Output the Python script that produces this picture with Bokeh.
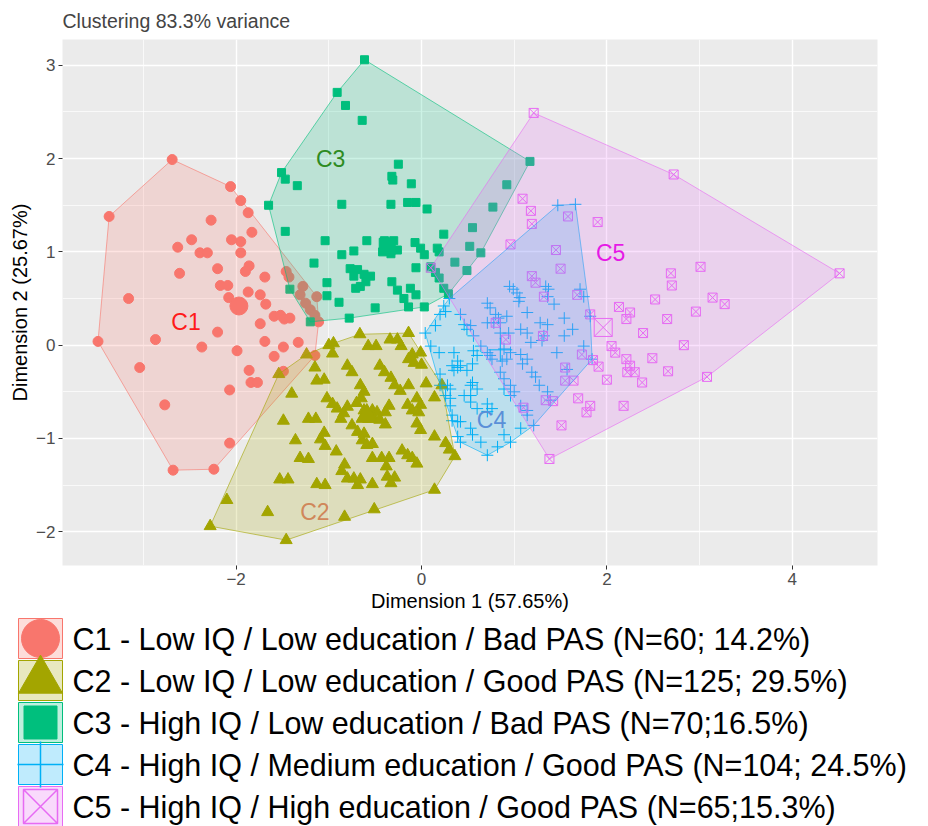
from bokeh.plotting import figure
from bokeh.models import Range1d, FixedTicker
from bokeh.embed import file_html
from bokeh.resources import INLINE
from bokeh.core.properties import value

# ---------------- data ----------------
c1_x = [-2.69, -3.37, -2.06, -1.95, -1.87, -2.27, -1.83, -2.48, -2.63, -2.05, -1.95, -2.39, -2.31, -1.95,
        -1.86, -1.90, -2.20, -2.61, -1.69, -1.46, -1.43, -1.28, -1.31, -1.13, -1.20, -1.15, -1.11, -2.17,
        -2.09, -3.16, -2.08, -1.87, -1.74, -1.68, -1.59, -1.52, -1.48, -1.42, -1.74, -2.20, -3.49, -2.87,
        -2.37, -1.99, -1.69, -1.49, -1.33, -1.59, -1.15, -3.04, -1.86, -1.49, -1.84, -1.77, -2.07, -2.77,
        -2.07, -2.68, -2.24, -1.25]
c1_y = [1.99, 1.38, 1.70, 1.55, 1.42, 1.34, 1.21, 1.13, 1.05, 1.13, 1.11, 0.99, 0.99, 0.99,
        0.85, 0.79, 0.82, 0.77, 0.73, 0.79, 0.73, 0.63, 0.54, 0.52, 0.38, 0.32, 0.25, 0.64,
        0.64, 0.50, 0.51, 0.57, 0.54, 0.44, 0.31, 0.32, 0.28, 0.29, 0.23, 0.14, 0.04, 0.06,
        -0.02, -0.06, 0.04, -0.02, 0.03, -0.12, -0.11, -0.24, -0.27, -0.28, -0.40, -0.40, -0.48, -0.64,
        -1.05, -1.34, -1.33, 0.45]

c2_x = [-0.665, -0.14, -1.00, -0.95, -0.575, -0.49, -0.34, -0.26, -0.22, -1.24, -0.96, -0.10, -0.01, -0.14,
        -0.08, 0.00, -1.15, -0.80, -0.75, -0.45, -0.40, -0.33, -0.29, -1.54, -1.13, -1.05, -0.66, -0.62,
        -0.23, -0.14, 0.05, -1.40, -1.02, -0.96, -0.91, -0.65, -0.05, -0.01, -0.15, -0.10, -0.03, 0.14,
        0.22, -0.80, -0.84, -0.87, -0.59, -0.53, -0.48, -0.39, -0.64, -0.57, -0.51, -1.49, -1.22, -1.14,
        -0.39, -0.05, -0.01, -0.75, -0.69, -0.62, -1.05, -1.09, -1.04, -1.36, -0.64, -0.59, -0.53, 0.14,
        0.26, 0.30, 0.36, -0.92, -0.53, -0.43, -0.35, -0.38, -0.21, -0.15, -0.10, -0.05, -1.31, -1.22,
        -0.83, -0.86, -0.80, -0.73, -0.66, -0.69, -0.37, -0.29, -0.33, -0.53, -1.53, -1.44, -1.13, -1.04,
        0.14, -2.10, -1.66, -0.83, -0.51, -2.28, -1.46, -0.55, -0.62, -0.45, -0.70, -0.35]
c2_y = [0.117, 0.13, 0.00, 0.02, -0.01, -0.01, 0.06, 0.06, -0.01, -0.10, -0.09, -0.10, -0.08, -0.15,
        -0.19, -0.21, -0.24, -0.22, -0.29, -0.22, -0.29, -0.35, -0.43, -0.31, -0.38, -0.37, -0.43, -0.50,
        -0.49, -0.43, -0.41, -0.52, -0.57, -0.63, -0.68, -0.57, -0.57, -0.64, -0.64, -0.70, -0.72, -0.56,
        -0.43, -0.66, -0.73, -0.79, -0.72, -0.70, -0.72, -0.72, -0.79, -0.79, -0.79, -0.81, -0.79, -0.79,
        -0.85, -0.84, -0.91, -0.86, -0.93, -0.95, -0.94, -1.01, -1.08, -1.02, -1.02, -1.07, -1.06, -0.98,
        -1.05, -1.12, -1.19, -1.14, -1.21, -1.21, -1.21, -1.30, -1.13, -1.18, -1.21, -1.27, -1.21, -1.22,
        -1.28, -1.35, -1.43, -1.43, -1.44, -1.50, -1.41, -1.42, -1.48, -1.49, -1.44, -1.44, -1.49, -1.50,
        -1.55, -1.66, -1.79, -1.84, -1.76, -1.94, -2.09, -0.75, -0.70, -0.80, -0.62, -0.65]

c3_x = [-0.615, -0.91, -0.82, -0.64, -1.51, -1.47, -1.34, -0.25, -0.32, -0.31, -0.11, -1.65, -0.86, -0.33,
        -0.15, -0.06, 0.06, 1.17, 0.92, 0.77, 0.55, 0.24, -1.47, -1.04, -0.59, -0.40, -0.30, -0.42,
        -0.33, -0.26, -0.86, -0.73, -0.07, -0.01, 0.03, 0.17, 0.19, 0.52, 0.36, 0.49, -1.16, -0.77,
        -0.69, -0.73, -0.62, -0.55, -0.60, -0.66, -0.71, -0.06, 0.10, 0.15, 0.19, -1.02, -0.32, -0.26,
        -0.19, -0.14, -0.12, -0.06, 0.24, 0.29, -1.42, -1.02, -0.89, -0.50, 0.03, -0.78, -1.20, 0.64]
c3_y = [3.06, 2.71, 2.57, 2.41, 1.85, 1.78, 1.71, 1.94, 1.81, 1.77, 1.73, 1.50, 1.51, 1.51,
        1.53, 1.53, 1.46, 1.97, 1.72, 1.48, 1.26, 1.19, 1.22, 1.12, 1.12, 1.12, 1.12, 1.00,
        0.98, 1.02, 0.97, 1.01, 1.10, 1.04, 0.97, 1.04, 1.00, 1.06, 0.89, 0.80, 0.88, 0.82,
        0.81, 0.74, 0.76, 0.74, 0.68, 0.63, 0.61, 0.83, 0.84, 0.78, 0.72, 0.67, 0.68, 0.59,
        0.50, 0.41, 0.61, 0.54, 0.61, 0.55, 0.60, 0.53, 0.46, 0.40, 0.41, 0.29, 0.25, 0.99]

c4_x = [1.47, 1.66, 0.95, 0.99, 1.03, 1.06, 1.05, 1.34, 1.37, 1.36, 1.43, 1.71, 1.75, 0.71, 0.74,
        0.80, 0.83, 1.14, 1.54, 1.82, 0.26, 0.42, 0.24, 0.20, 0.53, 0.49, 0.46, 0.56, 0.04, 0.15,
        0.71, 0.78, 0.85, 0.94, 1.32, 1.30, 1.63, 1.46, 1.75, 1.84, 0.89, 0.96, 0.92, 0.87, 1.07,
        1.14, 1.09, 0.71, 0.74, 0.76, 0.19, 0.35, 0.39, 0.42, 0.35, 0.49, 0.33, 0.39, 0.56, 0.60,
        0.55, 1.19, 1.23, 0.85, 0.89, 1.57, 0.28, 0.20, 0.31, 0.26, 0.53, 0.60, 0.55, 0.53, 0.46,
        0.96, 1.00, 0.89, 0.96, 1.27, 1.36, 0.31, 0.53, 0.71, 0.76, 0.71, 1.07, 1.14, 0.33, 0.39,
        0.31, 0.33, 0.60, 1.21, 0.53, 0.55, 0.89, 0.96, 0.42, 0.39, 0.42, 0.71, 0.82, 0.64, 1.07,
        0.20, 0.10, 0.64, 1.18, 1.54, 1.07, 1.14, 1.28, 1.36, 0.85, 0.92, 0.30, 1.39, 1.14]
c4_y = [1.50, 1.51, 0.63, 0.60, 0.56, 0.51, 0.47, 0.63, 0.60, 0.52, 0.44, 0.60, 0.52, 0.45, 0.40,
        0.33, 0.29, 0.35, 0.29, 0.31, 0.36, 0.33, 0.42, 0.33, 0.21, 0.17, 0.22, 0.10, 0.13, 0.21,
        0.24, 0.24, 0.13, 0.13, 0.10, 0.05, 0.17, -0.08, -0.01, -0.15, -0.04, -0.08, -0.15, -0.17, -0.10,
        -0.15, -0.20, -0.08, -0.11, -0.15, -0.08, -0.08, -0.17, -0.22, -0.27, -0.27, -0.22, -0.24, -0.06, -0.11,
        -0.20, -0.29, -0.34, -0.29, -0.36, -0.26, -0.43, -0.43, -0.47, -0.54, -0.43, -0.47, -0.40, -0.54, -0.54,
        -0.43, -0.50, -0.47, -0.54, -0.43, -0.50, -0.57, -0.61, -0.63, -0.68, -0.71, -0.65, -0.70, -0.75, -0.82,
        -0.65, -0.81, -0.68, -0.86, -0.89, -0.96, -0.96, -1.04, -1.04, -0.98, -0.82, -1.18, -1.09, -1.04, -0.89,
        -0.31, -0.01, -0.01, 0.03, 0.10, 0.17, 0.13, 0.24, 0.22, 0.24, 0.31, 0.50, -0.59, -0.75]

c5_x = [1.21, 2.72, 4.51, 3.08, 1.38, 1.09, 1.18, 1.19, 1.58, 1.90, 0.96, 1.45, 1.50, 1.19, 1.23,
        1.32, 1.68, 1.82, 3.01, 2.69, 2.70, 3.14, 3.27, 2.52, 2.13, 2.25, 2.21, 2.96, 2.65, 2.39,
        2.83, 0.91, 1.31, 2.05, 2.09, 1.73, 1.85, 1.91, 2.21, 2.25, 2.22, 2.30, 2.49, 2.66, 2.38,
        2.00, 1.55, 1.55, 1.64, 1.69, 1.82, 1.78, 2.18, 1.34, 1.42, 1.10, 1.51, 0.80, 0.10]
c5_y = [2.49, 1.83, 0.77, -0.34, -1.22, 1.57, 1.44, 1.30, 1.38, 1.32, 1.08, 1.02, 0.82, 0.74, 0.67,
        0.52, 0.54, 0.33, 0.84, 0.77, 0.64, 0.51, 0.44, 0.49, 0.41, 0.35, 0.28, 0.36, 0.28, 0.13,
        0.00, 0.06, 0.10, -0.01, -0.08, -0.10, -0.16, -0.23, -0.15, -0.22, -0.29, -0.29, -0.14, -0.28, -0.40,
        -0.37, -0.24, -0.38, -0.38, -0.57, -0.65, -0.72, -0.65, -0.59, -0.60, -0.67, -0.86, 0.24, 0.83]

centroid_x = [-1.97, -0.59, -0.37, 0.85, 1.96]
centroid_y = [0.42, -0.75, 1.06, -0.05, 0.19]

cluster_names = ["C1", "C2", "C3", "C4", "C5"]
label_x = [-2.54, -1.15, -0.98, 0.755, 2.04]
label_y = [0.245, -1.79, 2.00, -0.80, 0.99]

legend_labels = [
    "C1 - Low IQ / Low education / Bad PAS (N=60; 14.2%)",
    "C2 - Low IQ / Low education / Good PAS (N=125; 29.5%)",
    "C3 - High IQ / Low education / Bad PAS (N=70;16.5%)",
    "C4 - High IQ / Medium education / Good PAS (N=104; 24.5%)",
    "C5 - High IQ / High education / Good PAS (N=65;15.3%)",
]

title_text = "Clustering 83.3% variance"
xlab = "Dimension 1 (57.65%)"
ylab = "Dimension 2 (25.67%)"

# ---------------- styling ----------------
FONT = "Liberation Sans"
colors = ["#F8766D", "#A3A500", "#00BF7D", "#00B0F6", "#E76BF3"]
label_colors = ["#FF1A1A", "#D0875A", "#2E8B22", "#5A8FD8", "#E619E6"]
markers = ["circle", "triangle", "square", "cross", "square_x"]
pt_sizes = [10, 12, 8, 12, 9]
cen_sizes = [18, 20, 16, 24, 18]


def convex_hull(xs, ys):
    pts = sorted(set(zip(xs, ys)))

    def cross(o, a, b):
        return (a[0] - o[0]) * (b[1] - o[1]) - (a[1] - o[1]) * (b[0] - o[0])

    lower = []
    for pt in pts:
        while len(lower) >= 2 and cross(lower[-2], lower[-1], pt) <= 0:
            lower.pop()
        lower.append(pt)
    upper = []
    for pt in reversed(pts):
        while len(upper) >= 2 and cross(upper[-2], upper[-1], pt) <= 0:
            upper.pop()
        upper.append(pt)
    h = lower[:-1] + upper[:-1]
    return [q[0] for q in h], [q[1] for q in h]


xs_all = [c1_x, c2_x, c3_x, c4_x, c5_x]
ys_all = [c1_y, c2_y, c3_y, c4_y, c5_y]

p = figure(width=888, height=614, x_range=Range1d(-3.873, 4.919), y_range=Range1d(-2.362, 3.277),
           output_backend="svg", toolbar_location=None,
           min_border_left=62, min_border_right=11, min_border_top=38, min_border_bottom=46)
p.background_fill_color = "#EBEBEB"
p.border_fill_color = "white"
p.outline_line_color = None

p.title.text = title_text
p.title.text_font = FONT
p.title.text_font_size = "19.5px"
p.title.text_font_style = "normal"
p.title.align = "left"
p.title.standoff = 15

p.xaxis.ticker = FixedTicker(ticks=[-2, 0, 2, 4], minor_ticks=[-3, -1, 1, 3])
p.yaxis.ticker = FixedTicker(ticks=[-2, -1, 0, 1, 2, 3], minor_ticks=[-1.5, -0.5, 0.5, 1.5, 2.5])
p.xaxis.axis_label = xlab
p.yaxis.axis_label = ylab
for ax in p.axis:
    ax.axis_line_color = None
    ax.major_tick_line_color = "#333333"
    ax.major_tick_out = 4
    ax.major_tick_in = 0
    ax.minor_tick_line_color = None
    ax.major_label_text_color = "#4D4D4D"
    ax.major_label_text_font = FONT
    ax.major_label_text_font_size = "17px"
    ax.major_label_standoff = 3
    ax.axis_label_text_font = FONT
    ax.axis_label_text_font_size = "20px"
    ax.axis_label_text_font_style = "normal"
    ax.axis_label_text_color = "black"
    ax.axis_label_standoff = 2

p.grid.grid_line_color = "white"
p.grid.grid_line_width = 1.4
p.grid.minor_grid_line_color = "white"
p.grid.minor_grid_line_width = 0.7

# points first
for i in range(5):
    if markers[i] in ("cross", "square_x"):
        p.scatter(xs_all[i], ys_all[i], marker=markers[i], size=pt_sizes[i],
                  line_color=colors[i], fill_color=None, line_width=1)
    else:
        p.scatter(xs_all[i], ys_all[i], marker=markers[i], size=pt_sizes[i],
                  line_color=colors[i], fill_color=colors[i])

# hull polygons over the points
for i in range(5):
    hx, hy = convex_hull(xs_all[i], ys_all[i])
    p.patch(hx, hy, fill_color=colors[i], fill_alpha=0.2, line_color=colors[i], line_alpha=0.6, line_width=1)

# centroids
for i in range(5):
    if markers[i] in ("cross", "square_x"):
        p.scatter([centroid_x[i]], [centroid_y[i]], marker=markers[i], size=cen_sizes[i],
                  line_color=colors[i], fill_color=None, line_width=1)
    else:
        p.scatter([centroid_x[i]], [centroid_y[i]], marker=markers[i], size=cen_sizes[i],
                  line_color=colors[i], fill_color=colors[i])

# cluster labels
for i in range(5):
    p.text([label_x[i]], [label_y[i]], text=[cluster_names[i]], text_color=label_colors[i],
           text_font=value(FONT), text_font_size="23px", text_align="center", text_baseline="middle")

# ---------------- legend (separate panel below) ----------------
LW, LH = 920, 212
lg = figure(width=LW, height=LH, x_range=Range1d(0, LW), y_range=Range1d(LH, 0),
            output_backend="svg", toolbar_location=None, min_border=0)
lg.axis.visible = False
lg.grid.visible = False
lg.outline_line_color = None
lg.background_fill_color = "white"
lg.border_fill_color = "white"

row_y = [24 + 42 * i for i in range(5)]
key_x = [40] * 5
lg.rect(key_x, row_y, width=44, height=40, fill_color=colors, fill_alpha=0.25,
        line_color=colors, line_width=1)
key_sizes = [38, 44, 33, 46, 34]
for i in range(5):
    if markers[i] in ("cross", "square_x"):
        lg.scatter([key_x[i]], [row_y[i]], marker=markers[i], size=key_sizes[i],
                   line_color=colors[i], fill_color=None, line_width=1.5)
    else:
        lg.scatter([key_x[i]], [row_y[i]], marker=markers[i], size=key_sizes[i],
                   line_color=colors[i], fill_color=colors[i])
lg.text([72] * 5, row_y, text=legend_labels, text_color="black", text_font=value(FONT),
        text_font_size="30.5px", text_align="left", text_baseline="middle")

open("out.html", "w").write(file_html([p, lg], INLINE))
